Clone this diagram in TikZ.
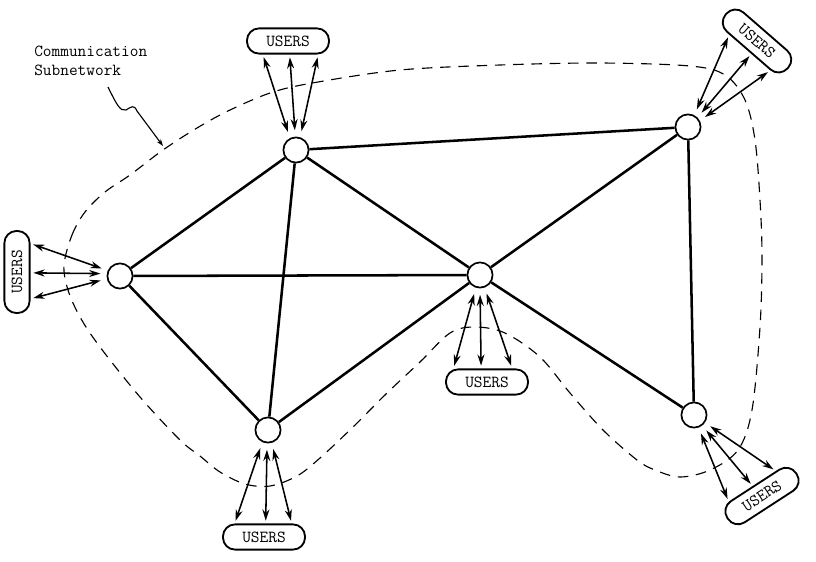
\documentclass[tikz,border=0pt]{standalone}
\usetikzlibrary{calc,arrows.meta}

\begin{document}
\begin{tikzpicture}[
  x=0.025cm, y=-0.025cm,
  font=\ttfamily\fontsize{12}{13.5}\selectfont,
  site/.style={circle, draw, line width=1.2pt, fill=white, minimum size=0.63cm, inner sep=0pt},
  users/.style={draw, line width=1.3pt, rounded corners=0.3cm, fill=white,
    minimum width=2.05cm, minimum height=0.63cm, inner sep=0pt},
  link/.style={line width=1.8pt},
  uarr/.style={{Stealth[length=8pt,width=5pt]}-{Stealth[length=8pt,width=5pt]},
    line width=1.1pt, shorten <=2pt, shorten >=4.5pt},
  bound/.style={line width=0.8pt, dash pattern=on 7.5pt off 5.5pt}
]
  \useasboundingbox (0,0) rectangle (816,561);

  % subnetwork boundary
  \draw[bound] plot[smooth cycle, tension=0.55] coordinates {
    (64,265) (72,235) (85,212) (105,192) (130,175) (163,150) (197,128) (230,110)
    (273,92) (318,82) (400,70) (500,65) (600,63) (690,66) (725,75) (745,100)
    (755,140) (760,200) (762,257) (760,327) (752,410) (738,450) (710,470)
    (680,477) (655,470) (637,460) (603,430) (570,393) (540,357) (505,333)
    (475,327) (450,333) (420,362) (387,393) (353,427) (320,458) (297,476)
    (270,486) (245,484) (220,472) (200,456) (180,440) (140,397) (100,347)
    (80,317) (68,290)};

  \node[anchor=north west, align=left, inner sep=0pt] (lbl) at (34,46)
    {Communication\\Subnetwork};
  \coordinate (lblfoot) at (108,87);
  \coordinate (bndpt) at (163,146);
  \draw[line width=0.8pt, -{Stealth[length=5pt,width=3.5pt]}] (lblfoot)
    .. controls (116,103) and (120,112) .. (126,110)
    .. controls (131,107) and (134,104) .. (137,111) -- (bndpt);

  % switching nodes
  \node[site] (top) at (296,150) {};
  \node[site] (west) at (120,276) {};
  \node[site] (south) at (268,430) {};
  \node[site] (hub) at (480,275) {};
  \node[site] (ne) at (688,127) {};
  \node[site] (se) at (694,415) {};

  \draw[link] (top) -- (west);
  \draw[link] (top) -- (south);
  \draw[link] (top) -- (hub);
  \draw[link] (top) -- (ne);
  \draw[link] (west) -- (hub);
  \draw[link] (west) -- (south);
  \draw[link] (south) -- (hub);
  \draw[link] (hub) -- (ne);
  \draw[link] (hub) -- (se);
  \draw[link] (ne) -- (se);

  % user groups
  \node[users] (ustop) at (288,41) {USERS};
  \node[users, rotate=90] (uswest) at (17,272) {USERS};
  \node[users] (ussouth) at (264,537) {USERS};
  \node[users] (ushub) at (487,382) {USERS};
  \node[users, rotate=-41] (usne) at (757,41) {USERS};
  \node[users, rotate=33] (usse) at (762,496) {USERS};

  \foreach \f/\a in {0.2/117, 0.52/93, 0.86/72}
    \draw[uarr] ($(ustop.south west)!\f!(ustop.south east)$) -- (top.\a);
  \foreach \f/\a in {0.18/192, 0.49/170, 0.84/156}
    \draw[uarr] ($(uswest.south west)!\f!(uswest.south east)$) -- (west.\a);
  \foreach \f/\a in {0.15/245, 0.52/266, 0.83/286}
    \draw[uarr] ($(ussouth.north west)!\f!(ussouth.north east)$) -- (south.\a);
  \foreach \f/\a in {0.1/252, 0.43/270, 0.8/290}
    \draw[uarr] ($(ushub.north west)!\f!(ushub.north east)$) -- (hub.\a);
  \foreach \f/\a in {0.2/62, 0.55/45, 0.85/28}
    \draw[uarr] ($(usne.south west)!\f!(usne.south east)$) -- (ne.\a);
  \foreach \f/\a in {0.13/290, 0.47/308, 0.8/325}
    \draw[uarr] ($(usse.north west)!\f!(usse.north east)$) -- (se.\a);
\end{tikzpicture}
\end{document}
